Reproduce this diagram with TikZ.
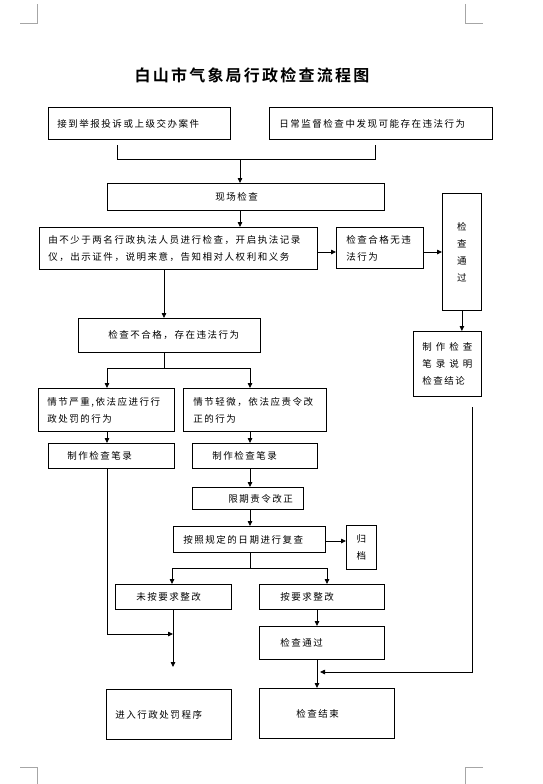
\documentclass[tikz,border=0pt]{standalone}
\usepackage{fontspec}
\newfontfamily\cjk[LetterSpace=16]{Noto Sans CJK SC}
\newfontfamily\cjktitle[LetterSpace=14]{Noto Sans CJK SC Bold}
\usetikzlibrary{arrows.meta,calc}
\tikzset{
  box/.style={draw, line width=0.8pt, anchor=north west, inner ysep=0pt, align=left,
    font=\fontsize{9.5}{17}\selectfont\cjk},
  cbox/.style={box, align=center},
  arr/.style={line width=0.8pt, -{Triangle[length=5pt,width=4.5pt]}},
  ln/.style={line width=0.8pt},
  cornermark/.style={draw=gray!70, line width=0.6pt}
}
\begin{document}
\begin{tikzpicture}[x=1pt,y=1pt]
\useasboundingbox (0,0) rectangle (542,-784);
% corner marks
\draw[cornermark] (20,-23) -- (37,-23) -- (37,-4);
\draw[cornermark] (465,-4) -- (465,-23) -- (483,-23);
\draw[cornermark] (20,-767) -- (37,-767) -- (37,-784);
\draw[cornermark] (483,-767) -- (465,-767) -- (465,-784);
% title
\node[font=\fontsize{16}{18}\selectfont\cjktitle] (title) at (252,-75) {白山市气象局行政检查流程图};
% boxes
\node[box, minimum width=182, minimum height=32, text width=164, inner xsep=9] (b1) at (48,-107) {接到举报投诉或上级交办案件};
\node[box, minimum width=223, minimum height=32, text width=203, inner xsep=10] (b2) at (269,-107) {日常监督检查中发现可能存在违法行为};
\node[box, minimum width=277, minimum height=27, text width=61, inner xsep=108] (b3) at (107,-183) {现场检查};
\node[box, minimum width=278, minimum height=42, text width=260, inner xsep=9] (b4) at (39,-227) {由不少于两名行政执法人员进行检查，开启执法记录\\仪，出示证件，说明来意，告知相对人权利和义务};
\node[box, minimum width=87, minimum height=41, text width=67, inner xsep=10] (b5) at (336,-227) {检查合格无违\\法行为};
\node[cbox, minimum width=39, minimum height=117, text width=21, inner xsep=9] (b6) at (442,-193) {检\\查\\通\\过};
\node[box, minimum width=68, minimum height=65, text width=50, inner xsep=9] (b7) at (413,-331) {\makebox[50pt][s]{制\hfill 作\hfill 检\hfill 查}\\\makebox[50pt][s]{笔\hfill 录\hfill 说\hfill 明}\\检查结论};
\node[box, minimum width=182, minimum height=34, text width=122, inner xsep=30] (b8) at (78,-318) {检查不合格，存在违法行为};
\node[box, minimum width=136, minimum height=43, text width=118, inner xsep=9] (b9) at (38,-388) {情节严重,依法应进行行\\政处罚的行为};
\node[box, minimum width=143, minimum height=43, text width=123, inner xsep=10] (b10) at (183,-388) {情节轻微，依法应责令改\\正的行为};
\node[box, minimum width=126, minimum height=25, text width=88, inner xsep=19] (b11) at (48,-443) {制作检查笔录};
\node[box, minimum width=125, minimum height=25, text width=85, inner xsep=20] (b12) at (192,-443) {制作检查笔录};
\node[box, minimum width=111, minimum height=22, text width=39, inner xsep=36] (b13) at (192,-487) {限期责令改正};
\node[box, minimum width=152, minimum height=26, text width=132, inner xsep=10] (b14) at (173,-526) {按照规定的日期进行复查};
\node[cbox, minimum width=30, minimum height=44, text width=12, inner xsep=9] (b15) at (346,-525) {归\\档};
\node[box, minimum width=116, minimum height=25, text width=74, inner xsep=21] (b16) at (115,-584) {未按要求整改};
\node[box, minimum width=125, minimum height=25, text width=83, inner xsep=21] (b17) at (259,-584) {按要求整改};
\node[box, minimum width=125, minimum height=50, text width=107, inner xsep=9] (b18) at (106,-689) {进入行政处罚程序};
\node[box, minimum width=125, minimum height=33, text width=83, inner xsep=21] (b19) at (259,-626) {检查通过};
\node[box, minimum width=135, minimum height=50, text width=61, inner xsep=37] (b20) at (259,-688) {检查结束};
% connectors
\coordinate (c1) at (117,-145);
\coordinate (j1) at (117,-159);
\coordinate (j2) at (375,-159);
\coordinate (c2) at (375,-145);
\coordinate (j3) at (240,-159);
\draw[ln] (c1) -- (j1) -- (j2) -- (c2);
\draw[arr] (j3) -- (j3 |- b3.north);
\draw[arr] (b3.south -| j3) -- (b4.north -| j3);
\coordinate (h1) at (0,-252);
\draw[arr] (b4.east |- h1) -- (b5.west |- h1);
\draw[arr] (b5.east |- h1) -- (b6.west |- h1);
\draw[arr] (b6.south) -- (b6.south |- b7.north);
\coordinate (v1) at (164,0);
\draw[arr] (b4.south -| v1) -- (b8.north -| v1);
\coordinate (s0) at (164,-368);
\coordinate (s1) at (107,-368);
\coordinate (s2) at (250,-368);
\draw[ln] (b8.south -| s0) -- (s0);
\draw[ln] (s1) -- (s2);
\draw[arr] (s1) -- (s1 |- b9.north);
\draw[arr] (s2) -- (s2 |- b10.north);
\draw[arr] (b9.south -| s1) -- (b11.north -| s1);
\draw[arr] (b10.south -| s2) -- (b12.north -| s2);
\draw[arr] (b12.south -| s2) -- (b13.north -| s2);
\draw[arr] (b13.south -| s2) -- (b14.north -| s2);
\coordinate (h2) at (0,-541);
\draw[arr] (b14.east |- h2) -- (b15.west |- h2);
\coordinate (t0) at (250,-568);
\coordinate (t1) at (172,-568);
\coordinate (t2) at (327,-568);
\draw[ln] (b14.south -| t0) -- (t0);
\draw[ln] (t1) -- (t2);
\draw[arr] (t1) -- (t1 |- b16.north);
\draw[arr] (t2) -- (t2 |- b17.north);
\coordinate (e1) at (173,-667);
\draw[arr] (b16.south -| e1) -- (e1);
\coordinate (m2) at (173,-634);
\draw[arr] (b11.south -| s1) |- (m2);
\coordinate (x317) at (317,0);
\draw[arr] (b17.south -| x317) -- (b19.north -| x317);
\draw[arr] (b19.south -| x317) -- (b20.north -| x317);
\coordinate (r1) at (472,-407);
\coordinate (r2) at (320,-672);
\draw[arr] (r1) |- (r2);
\end{tikzpicture}
\end{document}
